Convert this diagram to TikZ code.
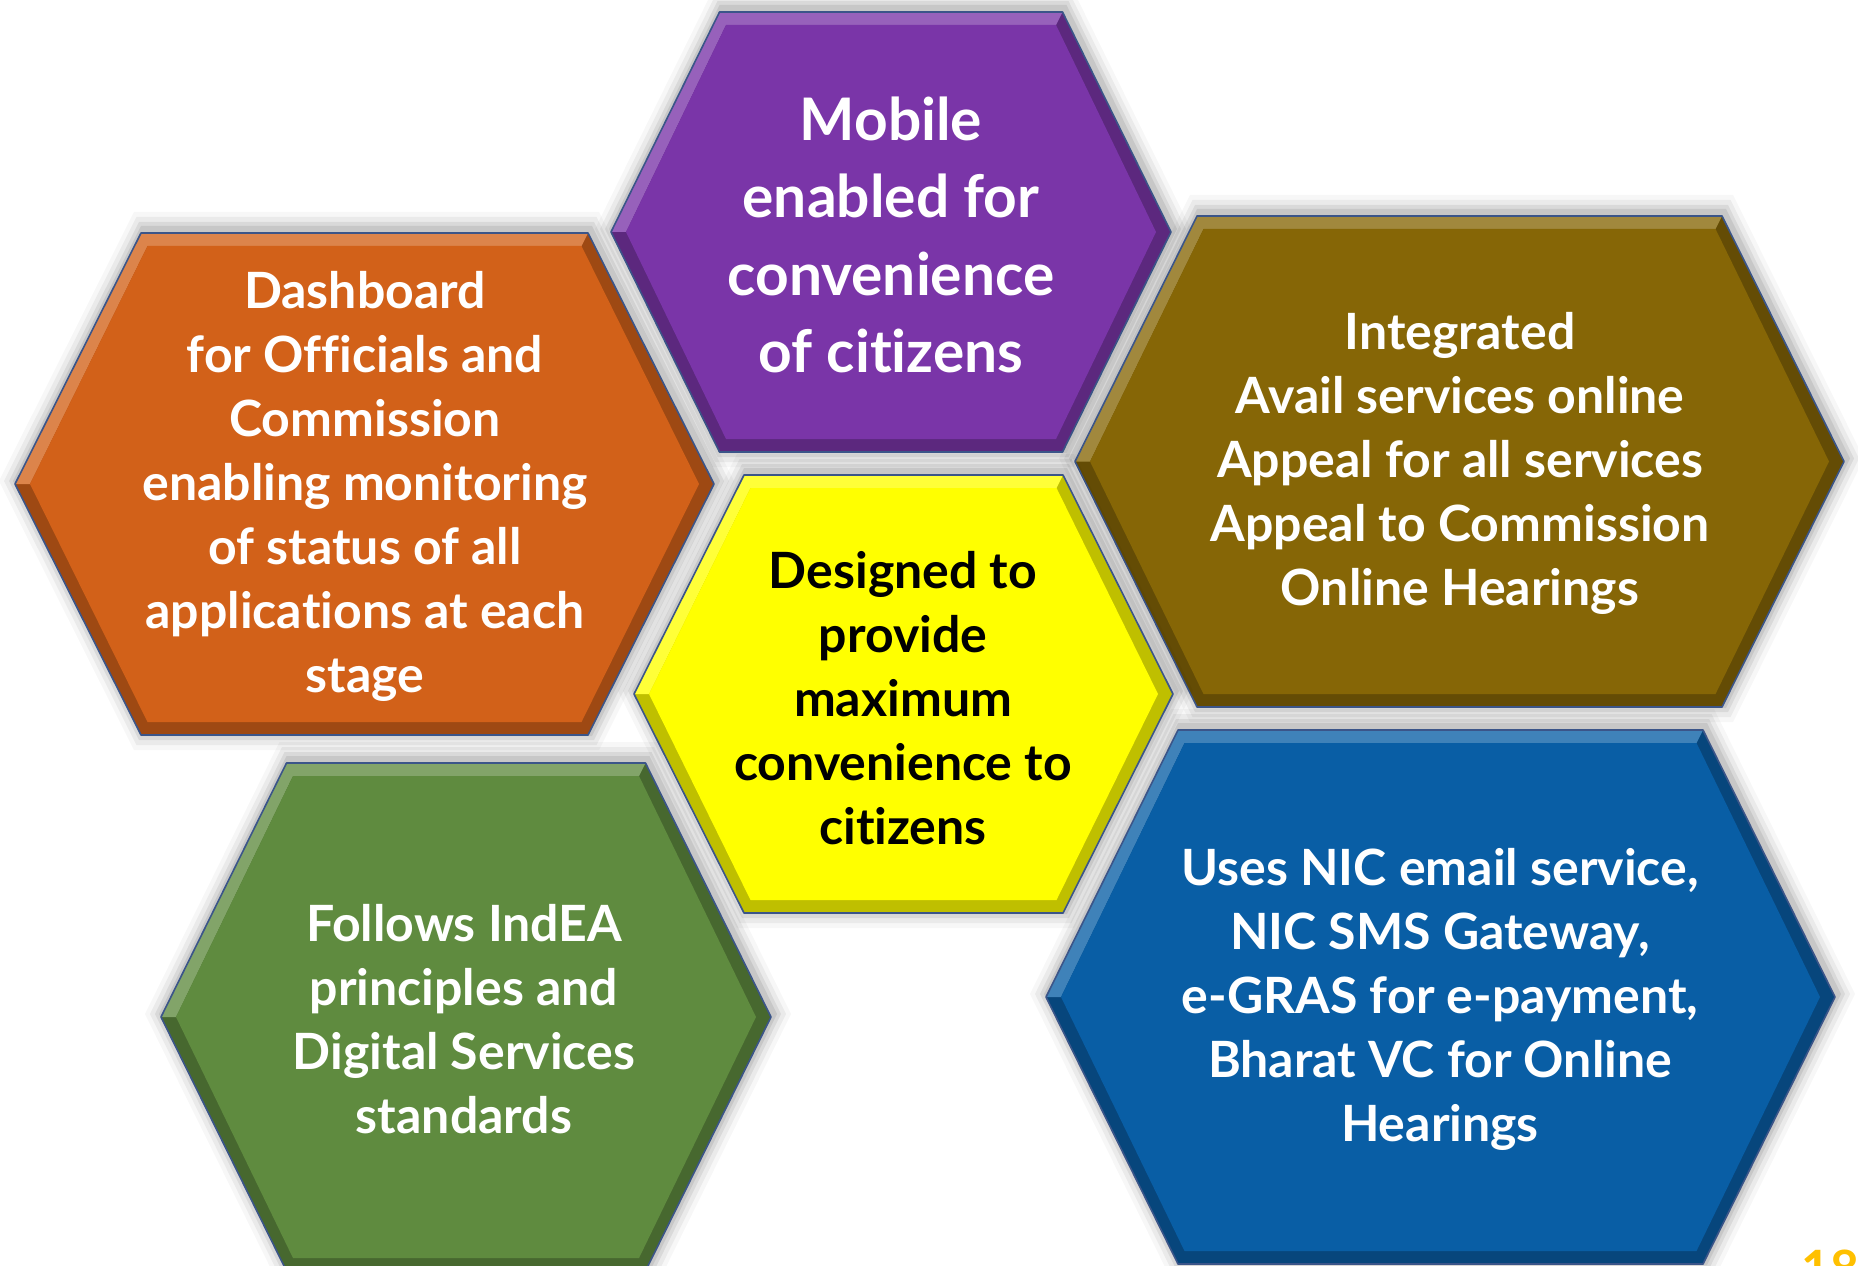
\documentclass[tikz,border=0pt]{standalone}
\usepackage{fontspec}
\setmainfont{Lato}[Ligatures=NoCommon]
\definecolor{hexpurple}{HTML}{7A35A8}
\definecolor{hexorange}{HTML}{D26119}
\definecolor{hexolive}{HTML}{866606}
\definecolor{hexyellow}{HTML}{FFFF00}
\definecolor{hexgreen}{HTML}{5F8B3F}
\definecolor{hexblue}{HTML}{095EA5}
\definecolor{hexline}{HTML}{3B5589}
\definecolor{pagegold}{HTML}{FFC000}
% hexagon outline: centre x, centre y, half width, half top edge, half height
\newcommand{\hexpath}[5]{({#1-(#3)},{#2}) -- ({#1-(#4)},{#2-(#5)}) -- ({#1+(#4)},{#2-(#5)}) -- ({#1+(#3)},{#2}) -- ({#1+(#4)},{#2+(#5)}) -- ({#1-(#4)},{#2+(#5)}) -- cycle}
% bevelled hexagon with soft shadow
\newcommand{\hexbox}[6]{%
  \foreach \d/\o in {18/0.03,13/0.05,8/0.07,4/0.08}{
    \fill[black,opacity=\o] \hexpath{#1+2}{#2-3}{#3+\d}{#4+\d*0.5}{#5+\d};
  }
  \fill[#6!75!black] \hexpath{#1}{#2}{#3}{#4}{#5};
  \fill[#6!78!white] ({#1-(#3)},{#2}) -- ({#1-(#4)},{#2-(#5)}) -- ({#1+(#4)},{#2-(#5)})
     -- ({#1+(#4)-6.5},{#2-(#5)+13}) -- ({#1-(#4)+6.5},{#2-(#5)+13}) -- ({#1-(#3)+15},{#2}) -- cycle;
  \fill[#6] \hexpath{#1}{#2}{#3-15}{#4-6.5}{#5-13};
  \draw[hexline,line width=1.2pt,line join=round] \hexpath{#1}{#2}{#3}{#4}{#5};
}
\tikzset{
  hextext/.style={align=center,text=white,inner sep=0pt,
    font=\bfseries\fontsize{37.5}{48}\selectfont},
  bigtext/.style={hextext,font=\bfseries\fontsize{44}{58}\selectfont}
}
\begin{document}
\begin{tikzpicture}[x=0.75pt,y=-0.75pt]
    \useasboundingbox (0,0) rectangle (1858,1266);
    \fill[white] (0,0) rectangle (1858,1266);
    % Hexagons %
    \hexbox{891}{232}{280}{171.5}{220}{hexpurple}
    \hexbox{364.5}{484}{349.5}{223.5}{251}{hexorange}
    \hexbox{1459.5}{461.5}{384.5}{262.5}{245.5}{hexolive}
    \hexbox{903.5}{694}{269.5}{159.5}{219}{hexyellow}
    \hexbox{466}{1017}{305}{179.5}{254}{hexgreen}
    \hexbox{1440.5}{997}{394.5}{262.5}{267}{hexblue}

    % Texts %
    \node[bigtext] (mobile) at (891,235) {Mobile\\enabled for\\convenience\\of citizens};
    \node[hextext] (dashboard) at (365,486) {Dashboard\\for Officials and\\Commission\\enabling monitoring\\of status of all\\applications at each\\stage};
    \node[hextext] (integrated) at (1460,463) {Integrated\\Avail services online\\Appeal for all services\\Appeal to Commission\\Online Hearings};
    \node[hextext,text=black] (designed) at (903,698) {Designed to\\provide\\maximum\\convenience to\\citizens};
    \node[hextext] (indea) at (464,1019) {Follows IndEA\\principles and\\Digital Services\\standards};
    \node[hextext] (nicsvc) at (1440,999) {Uses NIC email service,\\NIC SMS Gateway,\\e-GRAS for e-payment,\\Bharat VC for Online\\Hearings};
    \node[anchor=base west,inner sep=0pt,text=pagegold,font=\bfseries\fontsize{37.5}{45}\selectfont] (pagenum) at (1801,1286) {18};
\end{tikzpicture}
\end{document}
